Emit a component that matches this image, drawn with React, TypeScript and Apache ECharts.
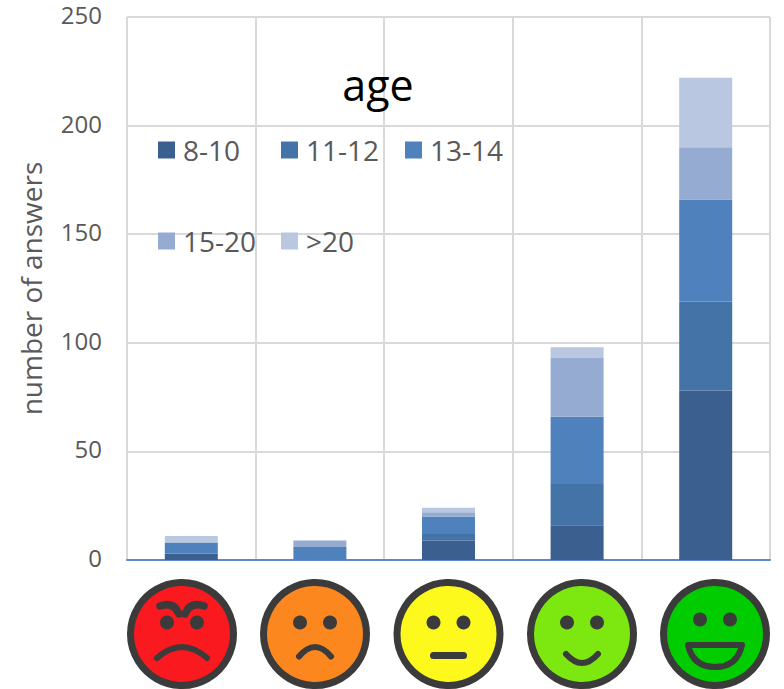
import React, { useEffect, useRef } from "react";
import * as echarts from "echarts";

const categories = ["very angry", "sad", "neutral", "happy", "very happy"];
const age8to10 = [3, 0, 9, 16, 78];
const age11to12 = [0, 0, 3, 19, 41];
const age13to14 = [5, 6, 8, 31, 47];
const age15to20 = [0, 3, 2, 27, 24];
const ageOver20 = [3, 0, 2, 5, 32];
const seriesNames = ["8-10", "11-12", "13-14", "15-20", ">20"];
const seriesColors = ["#3b5f8f", "#4473a8", "#4f81bd", "#95abd1", "#b9c7e0"];
const seriesValues = [age8to10, age11to12, age13to14, age15to20, ageOver20];
const legendLefts = [158, 281, 405, 158, 281];
const legendTops = [136, 136, 136, 227, 227];
const faceColors = ["#f9191f", "#fd871f", "#fef91d", "#7de80f", "#00cc00"];
const faceCentres = [182, 315, 448.5, 582, 715];
const FACE_Y = 634;
const INK = "#3b3b3b";

const paths: Record<string, string> = {
  mouthAngry: "M-25 24 Q0 2 25 24",
  browLeft: "M-22 -28 Q-8 -33 -3 -20",
  browRight: "M22 -28 Q8 -33 3 -20",
  mouthSad: "M-16 22.5 Q0 3.5 16 22.5",
  mouthFlat: "M-15 21.5 L15 21.5",
  mouthSmile: "M-16 20 Q0 38 16 20",
  mouthGrin: "M-27 11 L27 11 Q22 33 0 33 Q-22 33 -27 11 Z",
};
Object.entries(paths).forEach(([name, d]) => {
  echarts.graphic.registerShape(name, echarts.graphic.extendPath(d, {}));
});

const stroke = (type: string, lineWidth = 6, fill = "none") => ({
  type,
  style: { fill, stroke: INK, lineWidth, lineCap: "round", lineJoin: "round" },
});
const eyes = (dy: number) =>
  [-15, 15].map((cx) => ({ type: "circle", shape: { cx, cy: dy, r: 7 }, style: { fill: INK } }));

const faceParts = [
  [...eyes(-11.5), stroke("browLeft", 7.5), stroke("browRight", 7.5), stroke("mouthAngry")],
  [...eyes(-11.5), stroke("mouthSad")],
  [...eyes(-11.5), stroke("mouthFlat", 7)],
  [...eyes(-11.5), stroke("mouthSmile")],
  [...eyes(-14.5), stroke("mouthGrin", 6, faceColors[4])],
];

export default function App() {
  const ref = useRef<HTMLDivElement>(null);
  useEffect(() => {
    document.body.style.margin = "0";
    const chart = echarts.init(ref.current!, undefined, { renderer: "svg" });
    const font = "'Open Sans', sans-serif";
    chart.setOption({
      animation: false,
      textStyle: { fontFamily: font },
      title: {
        text: "age",
        left: 373,
        top: 58,
        textAlign: "center",
        textStyle: { fontSize: 43, fontWeight: "normal", color: "#000", fontFamily: font },
      },
      legend: seriesNames.map((name, i) => ({
        data: [name],
        left: legendLefts[i],
        top: legendTops[i],
        icon: "rect",
        itemWidth: 17,
        itemHeight: 17,
        itemGap: 0,
        padding: 0,
        selectedMode: false,
        textStyle: { fontSize: 28, color: "#595959", padding: [0, 0, 0, 3] },
      })),
      grid: { left: 127, top: 17, width: 643, height: 543 },
      xAxis: {
        type: "category",
        data: categories,
        axisLine: { lineStyle: { color: "#5b8ac5", width: 2 } },
        axisTick: { show: false },
        axisLabel: { show: false },
        splitLine: { show: true, lineStyle: { color: "#d9d9d9", width: 2 } },
      },
      yAxis: {
        type: "value",
        min: 0,
        max: 250,
        interval: 50,
        name: "number of answers",
        nameLocation: "middle",
        nameGap: 82,
        nameTextStyle: { fontSize: 28, color: "#595959" },
        axisLine: { show: false },
        axisTick: { show: false },
        axisLabel: {
          margin: 25,
          formatter: "{t|{value}}",
          rich: { t: { fontSize: 24, lineHeight: 24, color: "#595959", fontFamily: font, padding: [0, 0, 5, 0] } },
        },
        splitLine: { lineStyle: { color: "#d9d9d9", width: 2 } },
      },
      series: seriesNames.map((name, i) => ({
        name,
        type: "bar",
        stack: "age",
        barWidth: 53,
        data: seriesValues[i],
        itemStyle: { color: seriesColors[i] },
      })),
      graphic: faceCentres.map((x, i) => ({
        type: "group",
        x,
        y: FACE_Y,
        children: [
          {
            type: "circle",
            shape: { cx: 0, cy: 0, r: 51.5 },
            style: { fill: faceColors[i], stroke: INK, lineWidth: 7 },
          },
          ...faceParts[i],
        ],
      })),
    });
    return () => chart.dispose();
  }, []);
  return <div ref={ref} style={{ width: 784, height: 689 }} />;
}
